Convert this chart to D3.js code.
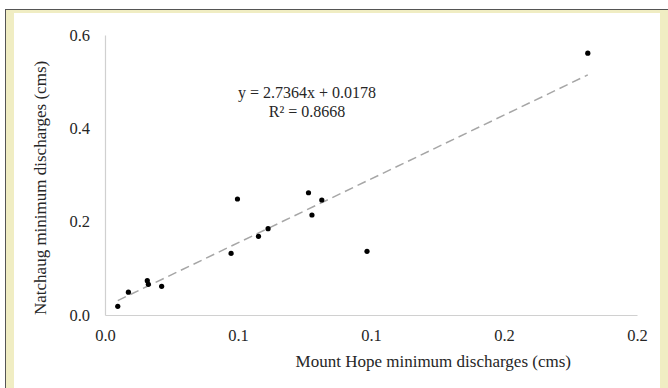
<!DOCTYPE html>
<html>
<head>
<meta charset="utf-8">
<script src="https://cdn.jsdelivr.net/npm/d3@7"></script>
<style>
  body { margin: 0; background: #fff; }
  text { font-family: "Liberation Serif", "Times New Roman", serif; fill: #262626; }
</style>
</head>
<body>
<div id="chart"></div>
<script>
// Mount Hope (x) vs Natchaug (y) minimum discharges, cms
const mountHope = [0.0048, 0.0088, 0.0159, 0.0163, 0.0213, 0.0474, 0.0498, 0.0577, 0.0613, 0.0765, 0.0778, 0.0815, 0.0985, 0.1815]
const natchaug  = [0.0186, 0.049, 0.0735, 0.0657, 0.0614, 0.132, 0.2486, 0.1686, 0.185, 0.262, 0.2143, 0.2464, 0.1364, 0.561]
const xTicks = [0, 0.05, 0.1, 0.15, 0.2]
const yTicks = [0, 0.2, 0.4, 0.6]
const slope = 2.7364
const intercept = 0.0178
const eqLines = ["y = 2.7364x + 0.0178", "R² = 0.8668"]

const W = 668, H = 388
const svg = d3.select("#chart").append("svg")
  .attr("width", W)
  .attr("height", H)

// frame
svg.append("rect")
  .attr("x", 5.5).attr("y", 9.5)
  .attr("width", W).attr("height", H)
  .attr("fill", "#f0edc3")
  .attr("stroke", "#555")
svg.append("rect")
  .attr("x", 14).attr("y", 13)
  .attr("width", 646).attr("height", H)
  .attr("fill", "#fff")

const x = d3.scaleLinear().domain([0, 0.2]).range([105, 637])
const y = d3.scaleLinear().domain([0, 0.6]).range([315, 35])

svg.append("g")
  .attr("transform", `translate(0,${y(0)})`)
  .call(d3.axisBottom(x).tickValues(xTicks).tickSize(0).tickPadding(14)
    .tickFormat(d => (Math.round(d * 10 + 1e-9) / 10).toFixed(1)))
svg.append("g")
  .attr("transform", `translate(${x(0)},0)`)
  .call(d3.axisLeft(y).tickValues(yTicks).tickSize(0).tickPadding(15)
    .tickFormat(d3.format(".1f")))

svg.selectAll(".domain").attr("stroke", "#d0d0d0").attr("stroke-width", 1.2)
svg.selectAll(".tick text")
  .attr("font-size", 16.5)
  .attr("font-family", "Liberation Serif")
  .attr("fill", "#262626")

// trend line
const xs = d3.extent(mountHope)
svg.append("line")
  .attr("x1", x(xs[0])).attr("y1", y(slope * xs[0] + intercept))
  .attr("x2", x(xs[1])).attr("y2", y(slope * xs[1] + intercept))
  .attr("stroke", "#a6a6a6")
  .attr("stroke-width", 1.5)
  .attr("stroke-dasharray", "9,5")

svg.selectAll("circle.pt")
  .data(mountHope)
  .join("circle")
    .attr("class", "pt")
    .attr("cx", d => x(d))
    .attr("cy", (d, i) => y(natchaug[i]))
    .attr("r", 2.6)
    .attr("fill", "#000")

svg.selectAll("text.eq")
  .data(eqLines)
  .join("text")
    .attr("class", "eq")
    .attr("x", 307)
    .attr("y", (d, i) => 98 + i * 19)
    .attr("text-anchor", "middle")
    .attr("font-size", 16)
    .text(d => d)

svg.append("text")
  .attr("x", 571).attr("y", 367)
  .attr("text-anchor", "end")
  .attr("font-size", 17)
  .text("Mount Hope minimum discharges (cms)")

svg.append("text")
  .attr("transform", "translate(46,315) rotate(-90)")
  .attr("text-anchor", "start")
  .attr("font-size", 17)
  .text("Natchaug minimum discharges (cms)")
</script>
</body>
</html>
